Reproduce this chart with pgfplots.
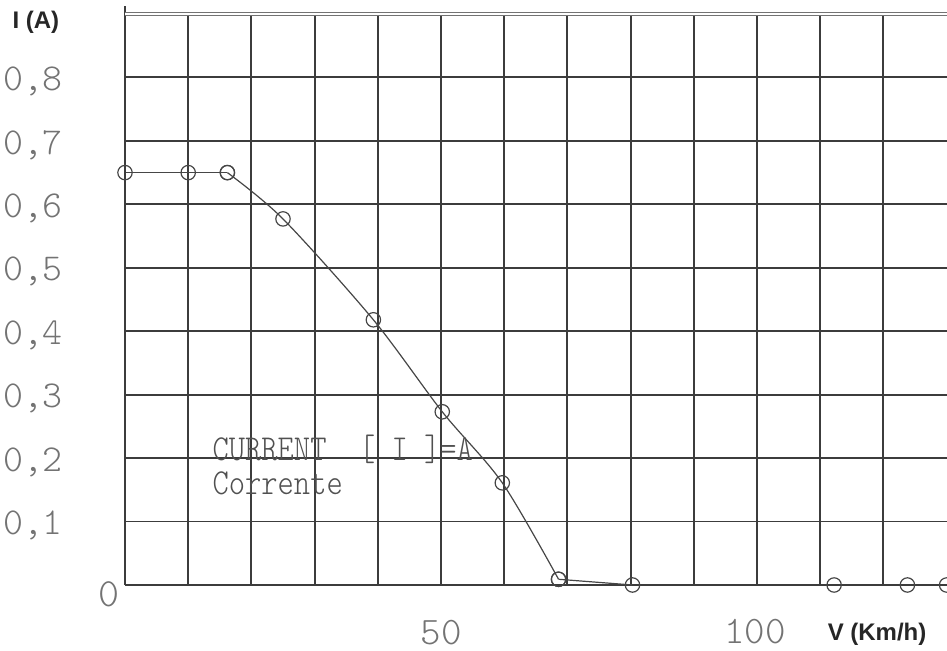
\documentclass[border=0pt]{standalone}
\usepackage{fontspec}
\setmainfont{Liberation Sans}
\usepackage{pgfplots}
\pgfplotsset{compat=1.18}

\definecolor{gridc}{RGB}{60,60,60}
\definecolor{curvec}{RGB}{70,70,70}
\definecolor{labc}{RGB}{115,115,115}
\definecolor{txtc}{RGB}{80,80,80}
\newcommand{\cad}{\ttfamily\fontseries{l}\selectfont}

\begin{document}
\begin{tikzpicture}
\begin{axis}[
    at={(62.5pt,33pt)}, anchor=south west,
    scale only axis, width=410.8pt, height=285.5pt,
    xmin=0, xmax=130, ymin=0, ymax=0.9,
    xtick={0,10,20,30,40,50,60,70,80,90,100,110,120},
    xticklabels={},
    ytick={0,0.1,0.2,0.3,0.4,0.5,0.6,0.7,0.8},
    yticklabels={{},{0,1},{0,2},{0,3},{0,4},{0,5},{0,6},{0,7},{0,8}},
    yticklabel style={anchor=east, xshift=-27.5pt, yshift=-2pt,
        font=\fontsize{19}{19}\cad, text=labc},
    major tick length=0pt,
    grid=major,
    grid style={gridc, line width=0.95pt},
    axis line style={draw=none},
    clip=false,
    every axis plot/.append style={curvec, line width=0.6pt},
    mark options={solid, line width=0.6pt},
]
    % flat start
    \addplot[mark=o, mark size=3.6pt] coordinates {
        (0,0.65) (10,0.65) (16.2,0.65)};
    % falling part
    \addplot[smooth, tension=0.5, mark=o, mark size=3.6pt] coordinates {
        (16.2,0.65) (25,0.577) (39.3,0.418) (50.2,0.273)
        (59.7,0.161) (68.6,0.009)};
    \addplot[mark=o, mark size=3.6pt] coordinates {
        (68.6,0.009) (80.3,0)};
    % single points
    \addplot[only marks, mark=o, mark size=3.6pt] coordinates {
        (112.2,0) (123.8,0) (130,0)};

    \draw[gridc, line width=0.95pt] (axis cs:0,0) -- (axis cs:0,0.912);
    \draw[labc, line width=0.5pt, double=white, double distance=0.7pt]
        (axis cs:0,0.9) -- (axis cs:130,0.9);

    \node[font=\fontsize{20}{20}\cad, text=labc] at (axis cs:-2.5,-0.014) {0};
    \node[font=\fontsize{19.5}{19.5}\cad, text=labc] at (axis cs:50,-0.075) {50};
    \node[font=\fontsize{19.5}{19.5}\cad, text=labc] at (axis cs:99.7,-0.074) {100};

    \node[font=\bfseries\fontsize{12}{12}\selectfont, text=black!85]
        at (axis cs:119,-0.077) {V (Km/h)};
    \node[font=\bfseries\fontsize{12}{12}\selectfont, text=black!85]
        at (axis cs:-14.1,0.887) {I (A)};

    \node[anchor=base west, inner sep=0pt, font=\fontsize{15.5}{15.5}\cad, text=txtc]
        at (axis cs:13.8,0.197) {\scalebox{1}[1.18]{CURRENT\ \ [\ I\ ]=A}};
    \node[anchor=base west, inner sep=0pt, font=\fontsize{15.5}{15.5}\cad, text=txtc]
        at (axis cs:13.8,0.142) {\scalebox{1}[1.18]{Corrente}};
\end{axis}
\pgfresetboundingbox
\useasboundingbox (0,0) rectangle (473.5pt,325.5pt);
\end{tikzpicture}
\end{document}
